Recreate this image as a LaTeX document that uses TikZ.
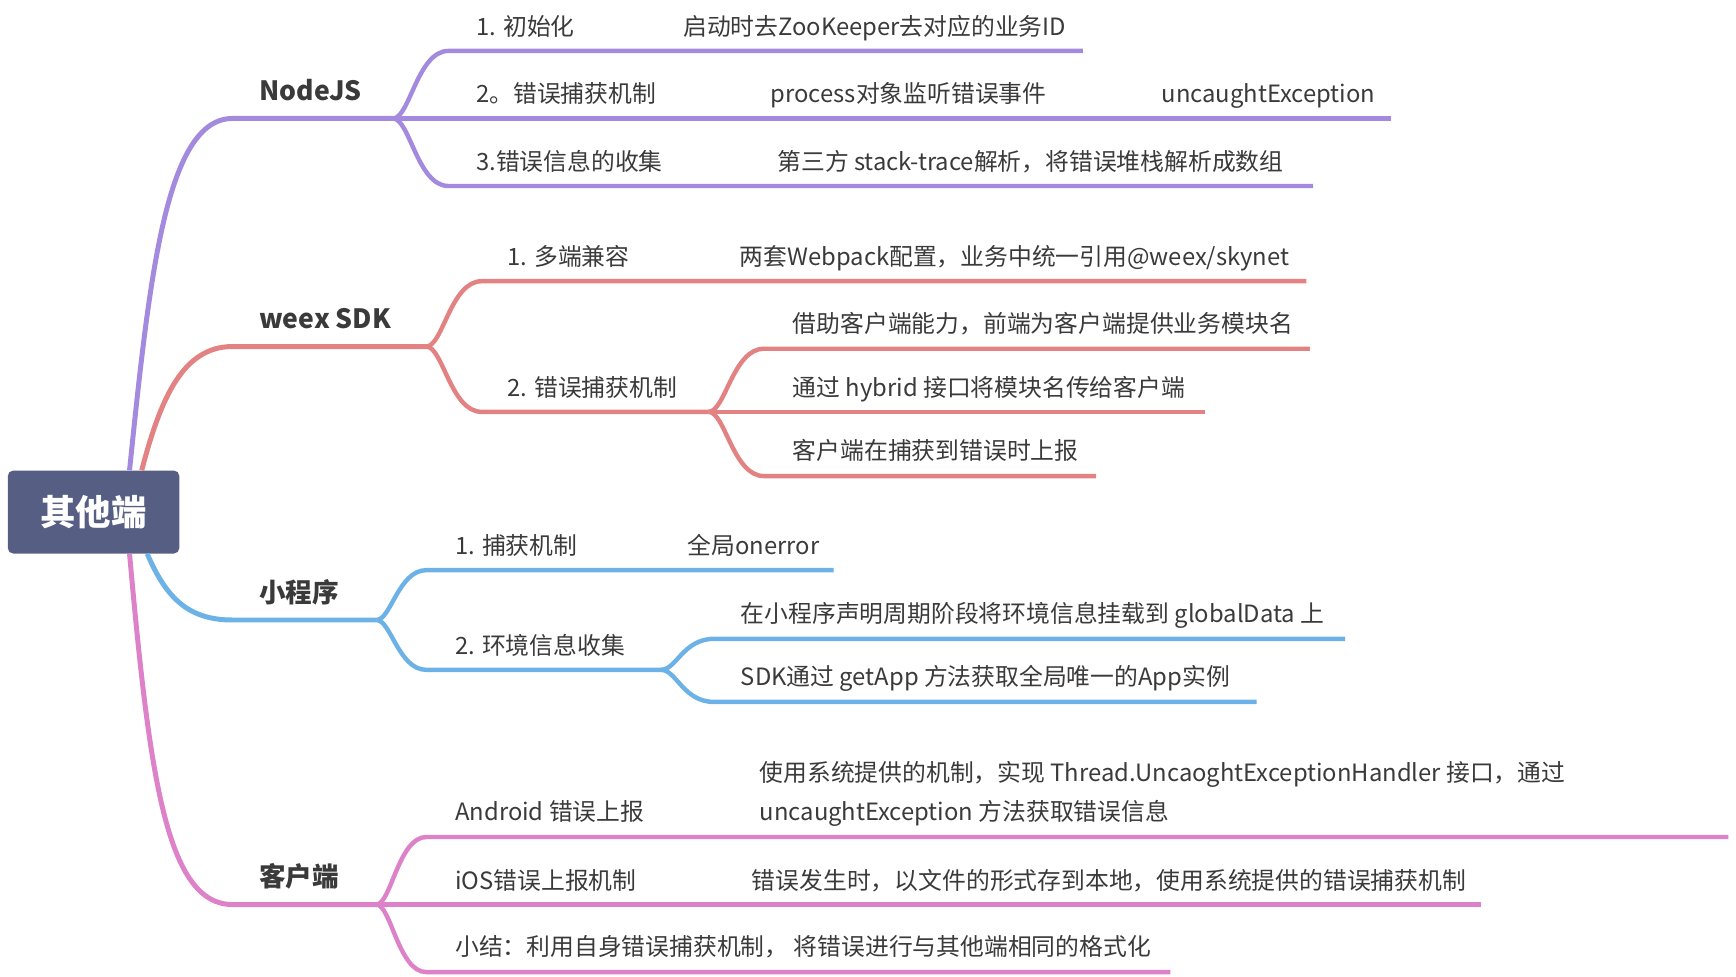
\documentclass[tikz,border=0pt]{standalone}
\usepackage{fontspec}
\setmainfont{Noto Sans CJK SC}
\definecolor{cN}{HTML}{A48ADF}
\definecolor{cW}{HTML}{E38282}
\definecolor{cM}{HTML}{6CB2E6}
\definecolor{cK}{HTML}{DD82C8}
\definecolor{cRoot}{HTML}{575E84}
\definecolor{cTxt}{HTML}{3A3A3A}
\tikzset{
  mainline/.style={line width=4.5pt},
  subline/.style={line width=4pt},
  rootbox/.style={fill=cRoot, rounded corners=5pt, minimum width=155pt, minimum height=75pt, inner sep=0pt, text=white, font=\fontsize{32}{36}\selectfont\bfseries},
  mainlab/.style={anchor=base west, inner sep=0pt, text=cTxt, font=\fontsize{24}{28}\selectfont\bfseries},
  sublab/.style={anchor=base west, inner sep=0pt, text=cTxt, font=\fontsize{21.5}{25}\selectfont},
}
\begin{document}
\begin{tikzpicture}[x=1pt,y=-1pt]
\useasboundingbox (0,0) rectangle (1568,882);
\node[rootbox] (root) at (84.5,462.5) {其他端};

% ---------- NodeJS ----------
\coordinate (Ns) at (210,107);
\coordinate (Nf) at (355,107);
\draw[mainline,cN] ([xshift=32.5pt]root.north) .. controls (135,250) and (150,107) .. (Ns) -- (Nf);
\node[mainlab] (N) at (234,91) {NodeJS};
\coordinate (N1s) at (405,46); \coordinate (N1e) at (978,46);
\coordinate (N2e) at (1256,107);
\coordinate (N3s) at (405,168); \coordinate (N3e) at (1186,168);
\draw[subline,cN] (Nf) .. controls (370,107) and (377,46) .. (N1s) -- (N1e);
\draw[subline,cN] (Nf) -- (N2e);
\draw[subline,cN] (Nf) .. controls (370,107) and (377,168) .. (N3s) -- (N3e);
\node[sublab] (N1) at (430,32) {1. 初始化};
\node[sublab] (N1a) at (617,32) {启动时去ZooKeeper去对应的业务ID};
\node[sublab] (N2) at (430,93) {2。错误捕获机制};
\node[sublab] (N2a) at (696,93) {process对象监听错误事件};
\node[sublab] (N2b) at (1049,93) {uncaughtException};
\node[sublab] (N3) at (430,154) {3.错误信息的收集};
\node[sublab] (N3a) at (702,154) {第三方 stack-trace解析，将错误堆栈解析成数组};

% ---------- weex SDK ----------
\coordinate (Ws) at (210,313);
\coordinate (Wf) at (385,313);
\draw[mainline,cW] ([xshift=43.5pt]root.north) .. controls (145,360) and (165,313) .. (Ws) -- (Wf);
\node[mainlab] (W) at (234,297) {weex SDK};
\coordinate (W1s) at (435,254); \coordinate (W1e) at (1180,254);
\coordinate (W2s) at (435,372); \coordinate (W2f) at (640,372);
\draw[subline,cW] (Wf) .. controls (400,313) and (407,254) .. (W1s) -- (W1e);
\draw[subline,cW] (Wf) .. controls (400,313) and (407,372) .. (W2s) -- (W2f);
\node[sublab] (W1) at (458,240) {1. 多端兼容};
\node[sublab] (W1a) at (668,240) {两套Webpack配置，业务中统一引用@weex/skynet};
\node[sublab] (W2) at (458,358) {2. 错误捕获机制};
\coordinate (Was) at (690,315); \coordinate (Wae) at (1183,315);
\coordinate (Wbe) at (1088,372);
\coordinate (Wcs) at (690,430); \coordinate (Wce) at (990,430);
\draw[subline,cW] (W2f) .. controls (655,372) and (662,315) .. (Was) -- (Wae);
\draw[subline,cW] (W2f) -- (Wbe);
\draw[subline,cW] (W2f) .. controls (655,372) and (662,430) .. (Wcs) -- (Wce);
\node[sublab] (Wa) at (716,300) {借助客户端能力，前端为客户端提供业务模块名};
\node[sublab] (Wb) at (716,358) {通过 hybrid 接口将模块名传给客户端};
\node[sublab] (Wc) at (716,415) {客户端在捕获到错误时上报};

% ---------- 小程序 ----------
\coordinate (Ms) at (210,560);
\coordinate (Mf) at (340,560);
\draw[mainline,cM] ([xshift=48.5pt]root.south) .. controls (150,540) and (170,560) .. (Ms) -- (Mf);
\node[mainlab] (M) at (234,544) {小程序};
\coordinate (M1s) at (385,515); \coordinate (M1e) at (753,515);
\coordinate (M2s) at (385,605); \coordinate (M2f) at (597,605);
\draw[subline,cM] (Mf) .. controls (353,560) and (360,515) .. (M1s) -- (M1e);
\draw[subline,cM] (Mf) .. controls (353,560) and (360,605) .. (M2s) -- (M2f);
\node[sublab] (M1) at (411,501) {1. 捕获机制};
\node[sublab] (M1a) at (621,501) {全局onerror};
\node[sublab] (M2) at (411,591) {2. 环境信息收集};
\coordinate (Mas) at (645,577); \coordinate (Mae) at (1215,577);
\coordinate (Mbs) at (645,634); \coordinate (Mbe) at (1135,634);
\draw[subline,cM] (M2f) .. controls (611,605) and (617,577) .. (Mas) -- (Mae);
\draw[subline,cM] (M2f) .. controls (611,605) and (617,634) .. (Mbs) -- (Mbe);
\node[sublab] (Ma) at (669,562) {在小程序声明周期阶段将环境信息挂载到 globalData 上};
\node[sublab] (Mb) at (669,619) {SDK通过 getApp 方法获取全局唯一的App实例};

% ---------- 客户端 ----------
\coordinate (Ks) at (210,817);
\coordinate (Kf) at (340,817);
\draw[mainline,cK] ([xshift=32.5pt]root.south) .. controls (135,700) and (150,817) .. (Ks) -- (Kf);
\node[mainlab] (K) at (234,801) {客户端};
\coordinate (K1s) at (385,756); \coordinate (K1e) at (1561,756);
\coordinate (K2e) at (1338,817);
\coordinate (K3s) at (385,878); \coordinate (K3e) at (1057,878);
\draw[subline,cK] (Kf) .. controls (353,817) and (360,756) .. (K1s) -- (K1e);
\draw[subline,cK] (Kf) -- (K2e);
\draw[subline,cK] (Kf) .. controls (353,817) and (360,878) .. (K3s) -- (K3e);
\node[sublab] (K1) at (411,741) {Android 错误上报};
\node[sublab] (K1a) at (686,706) {使用系统提供的机制，实现 Thread.UncaoghtExceptionHandler 接口，通过};
\node[sublab] (K1b) at (686,741) {uncaughtException 方法获取错误信息};
\node[sublab] (K2) at (411,803) {iOS错误上报机制};
\node[sublab] (K2a) at (679,803) {错误发生时，以文件的形式存到本地，使用系统提供的错误捕获机制};
\node[sublab] (K3) at (411,863) {小结：利用自身错误捕获机制， 将错误进行与其他端相同的格式化};
\end{tikzpicture}
\end{document}
